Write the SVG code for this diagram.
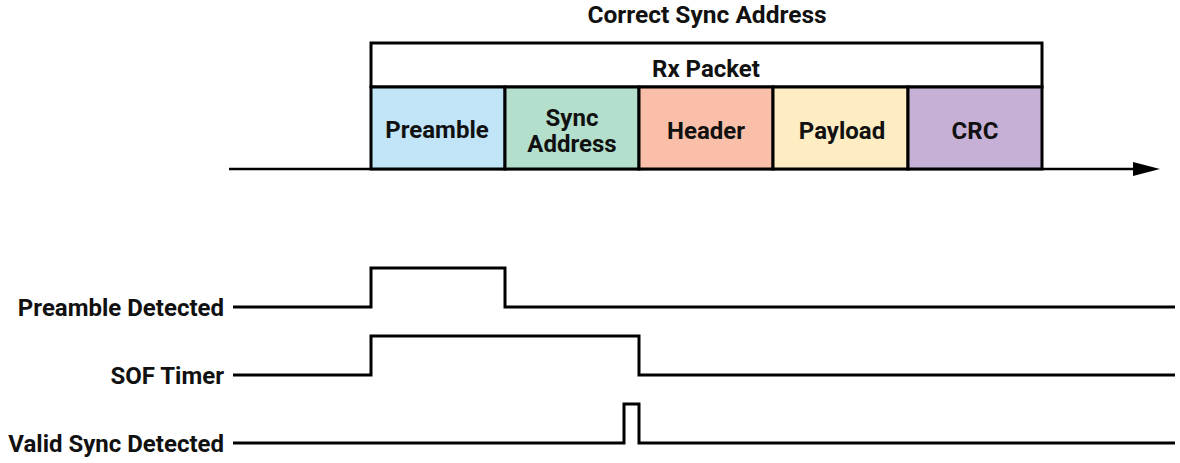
<svg xmlns="http://www.w3.org/2000/svg" width="1180" height="463" viewBox="0 0 1180 463">
<style>
text{font-family:Roboto,"Liberation Sans",sans-serif;font-weight:bold;fill:#111;font-size:24px}
.c{text-anchor:middle}
.r{text-anchor:end}
.cell{stroke:#000;stroke-width:3}
.sig{fill:none;stroke:#000;stroke-width:3}
</style>
<defs>
<marker id="ah" markerWidth="10" markerHeight="10" refX="0" refY="5" orient="auto" markerUnits="userSpaceOnUse" viewBox="0 0 10 10" overflow="visible">
<path d="M0,-2 L27,5 L0,12 Z" fill="#000"/>
</marker>
</defs>
<text class="c" x="707" y="23" style="font-size:24.5px">Correct Sync Address</text>
<g id="connectors">
<line x1="229" y1="169" x2="1133" y2="169" stroke="#000" stroke-width="2.5" marker-end="url(#ah)"/>
</g>
<g id="rx-packet">
<rect class="cell" x="371" y="43" width="671" height="44" fill="#fff"/>
<text class="c" x="706" y="77">Rx Packet</text>
</g>
<g id="preamble">
<rect class="cell" x="371" y="87" width="134" height="82" fill="#c1e4f7"/>
<text class="c" x="437" y="138">Preamble</text>
</g>
<g id="sync-address">
<rect class="cell" x="505" y="87" width="134" height="82" fill="#b3dfcc"/>
<text class="c" x="572" y="126">Sync</text>
<text class="c" x="572" y="152">Address</text>
</g>
<g id="header">
<rect class="cell" x="639" y="87" width="134" height="82" fill="#f9bfa8"/>
<text class="c" x="706" y="139">Header</text>
</g>
<g id="payload">
<rect class="cell" x="773" y="87" width="135" height="82" fill="#feecc3"/>
<text class="c" x="842" y="139">Payload</text>
</g>
<g id="crc">
<rect class="cell" x="908" y="87" width="134" height="82" fill="#c6b0d5"/>
<text class="c" x="975" y="139">CRC</text>
</g>
<g id="preamble-detected">
<text class="r" x="224" y="316">Preamble Detected</text>
<polyline class="sig" points="233,307 371,307 371,268 505,268 505,307 1175,307"/>
</g>
<g id="sof-timer">
<text class="r" x="224" y="384">SOF Timer</text>
<polyline class="sig" points="233,375 371,375 371,336 639,336 639,375 1175,375"/>
</g>
<g id="valid-sync-detected">
<text class="r" x="224" y="452">Valid Sync Detected</text>
<polyline class="sig" points="233,443 624,443 624,404 639,404 639,443 1175,443"/>
</g>
</svg>
